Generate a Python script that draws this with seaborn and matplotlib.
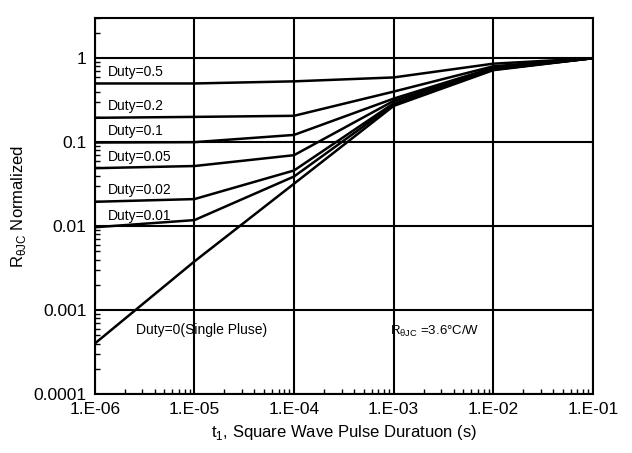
import pandas as pd
import matplotlib
matplotlib.use("Agg")
import matplotlib.pyplot as plt
import matplotlib.ticker as mticker
import seaborn as sns

# pulse width points (s)
t = [1e-6, 1e-5, 1e-4, 1e-3, 1e-2, 1e-1]

# normalized thermal resistance for each duty cycle
duty_05 = [0.50, 0.50, 0.53, 0.59, 0.86, 1.0]
duty_02 = [0.195, 0.20, 0.206, 0.40, 0.80, 1.0]
duty_01 = [0.099, 0.10, 0.122, 0.33, 0.77, 1.0]
duty_005 = [0.049, 0.052, 0.070, 0.31, 0.75, 1.0]
duty_002 = [0.0195, 0.021, 0.046, 0.29, 0.74, 1.0]
duty_001 = [0.0097, 0.0118, 0.039, 0.28, 0.73, 1.0]
single = [0.0004, 0.0038, 0.032, 0.27, 0.72, 1.0]

curves = {"0.5": duty_05, "0.2": duty_02, "0.1": duty_01, "0.05": duty_005,
          "0.02": duty_002, "0.01": duty_001, "0": single}

x_ticks = [1e-6, 1e-5, 1e-4, 1e-3, 1e-2, 1e-1]
x_labels = ["1.E-06", "1.E-05", "1.E-04", "1.E-03", "1.E-02", "1.E-01"]
y_ticks = [1e-4, 1e-3, 1e-2, 1e-1, 1]
y_labels = ["0.0001", "0.001", "0.01", "0.1", "1"]

rows = []
for d, vals in curves.items():
    for tt, v in zip(t, vals):
        rows.append({"duty": d, "t": tt, "r": v})
df = pd.DataFrame(rows)

sns.set_style("white")
plt.rcParams["font.family"] = ["Liberation Sans", "DejaVu Sans"]
plt.rcParams["text.color"] = "black"
plt.rcParams["axes.labelcolor"] = "black"
plt.rcParams["xtick.color"] = "black"
plt.rcParams["ytick.color"] = "black"

fig = plt.figure(figsize=(6.32, 4.53), dpi=100)
ax = fig.add_axes([0.150, 0.130, 0.788, 0.830])

sns.lineplot(data=df, x="t", y="r", units="duty", estimator=None,
             color="black", linewidth=1.8, ax=ax, sort=False)

ax.set_xscale("log")
ax.set_yscale("log")
ax.set_xlim(1e-6, 1e-1)
ax.set_ylim(1e-4, 3)

ax.set_xticks(x_ticks)
ax.set_xticklabels(x_labels, fontsize=12.5)
ax.set_yticks(y_ticks)
ax.set_yticklabels(y_labels, fontsize=12.5)
ax.xaxis.set_minor_locator(mticker.LogLocator(base=10, subs=range(2, 10), numticks=20))
ax.yaxis.set_minor_locator(mticker.LogLocator(base=10, subs=range(2, 10), numticks=20))
ax.xaxis.set_minor_formatter(mticker.NullFormatter())
ax.yaxis.set_minor_formatter(mticker.NullFormatter())
ax.tick_params(which="major", length=0, pad=6)
ax.tick_params(which="minor", direction="in", length=3.5, width=1, color="black",
               left=True, bottom=True)

ax.grid(True, which="major", color="black", linewidth=1.5)
for s in ax.spines.values():
    s.set_color("black")
    s.set_linewidth(1.5)

ax.set_xlabel("t$_{\\mathregular{1}}$, Square Wave Pulse Duratuon (s)", fontsize=12)
ax.set_ylabel("R$_{\\mathregular{θJC}}$ Normalized", fontsize=12)

for d, vals in curves.items():
    if d == "0":
        continue
    ax.text(1.35e-6, vals[0] * 1.13, "Duty=" + d, fontsize=10, va="bottom", ha="left")

ax.text(2.6e-6, 0.00058, "Duty=0(Single Pluse)", fontsize=10, va="center", ha="left")
ax.text(9.1e-4, 0.00056, "R$_{\\mathregular{θJC}}$ =3.6°C/W", fontsize=9.5, va="center", ha="left")

fig.savefig("out.png", dpi=100)
